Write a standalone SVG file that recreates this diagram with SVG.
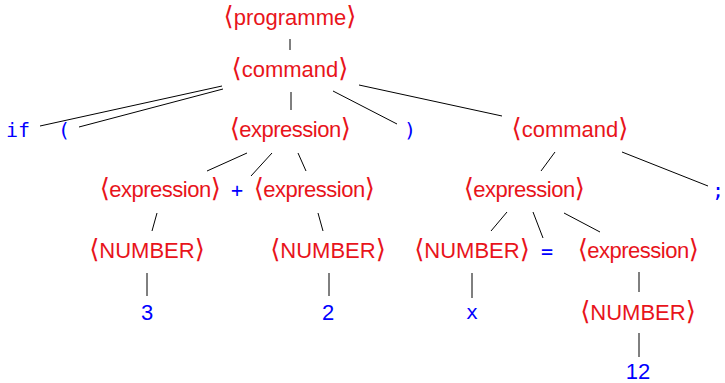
<svg xmlns="http://www.w3.org/2000/svg" width="725" height="383" viewBox="0 0 725 383">
<style>
.nt{font-family:"Liberation Sans","DejaVu Sans",sans-serif;font-size:22px;fill:#e8141b;text-anchor:middle}
.nt .b{font-family:"DejaVu Sans",sans-serif;font-size:26px}
.ex{letter-spacing:-0.5px}
.tt{font-family:"DejaVu Sans Mono","Liberation Mono",monospace;font-size:20px;fill:#0000ff;text-anchor:middle}
.num{font-family:"Liberation Sans","DejaVu Sans",sans-serif;font-size:22px;fill:#0000ff;text-anchor:middle}
#edges line{stroke:#000;stroke-width:1}
</style>
<rect width="725" height="383" fill="#fff"/>
<g id="edges">
<line x1="290" y1="39" x2="290" y2="50"/>
<line x1="222" y1="86" x2="40" y2="126"/>
<line x1="223" y1="89" x2="79" y2="127"/>
<line x1="291" y1="92" x2="291" y2="110"/>
<line x1="333" y1="91" x2="397" y2="124"/>
<line x1="359" y1="85" x2="502" y2="116"/>
<line x1="247" y1="153" x2="207" y2="171"/>
<line x1="272" y1="153" x2="251" y2="176"/>
<line x1="298" y1="153" x2="306" y2="171"/>
<line x1="555" y1="152" x2="541" y2="171"/>
<line x1="622" y1="152" x2="708" y2="186"/>
<line x1="157" y1="213" x2="152" y2="231"/>
<line x1="318" y1="213" x2="323" y2="231"/>
<line x1="147" y1="273" x2="147" y2="296"/>
<line x1="329" y1="273" x2="329" y2="296"/>
<line x1="507" y1="212" x2="491" y2="231"/>
<line x1="533" y1="212" x2="543" y2="238"/>
<line x1="564" y1="213" x2="600" y2="232"/>
<line x1="472" y1="273" x2="472" y2="298"/>
<line x1="639" y1="272" x2="639" y2="292"/>
<line x1="639" y1="333" x2="639" y2="357"/>
</g>
<g id="programme"><text class="nt" x="290" y="25"><tspan class="b">⟨</tspan>programme<tspan class="b">⟩</tspan></text></g>
<g id="command1"><text class="nt" x="290" y="77"><tspan class="b">⟨</tspan>command<tspan class="b">⟩</tspan></text></g>
<g id="if"><text class="tt" x="18" y="137">if</text></g>
<g id="lparen"><text class="tt" x="64" y="137">(</text></g>
<g id="expression1"><text class="nt ex" x="290" y="137"><tspan class="b">⟨</tspan>expression<tspan class="b">⟩</tspan></text></g>
<g id="rparen"><text class="tt" x="410" y="137">)</text></g>
<g id="command2"><text class="nt" x="570" y="137"><tspan class="b">⟨</tspan>command<tspan class="b">⟩</tspan></text></g>
<g id="expression2"><text class="nt ex" x="160" y="197"><tspan class="b">⟨</tspan>expression<tspan class="b">⟩</tspan></text></g>
<g id="plus"><text class="tt" x="237" y="197">+</text></g>
<g id="expression3"><text class="nt ex" x="314" y="197"><tspan class="b">⟨</tspan>expression<tspan class="b">⟩</tspan></text></g>
<g id="expression4"><text class="nt ex" x="524" y="197"><tspan class="b">⟨</tspan>expression<tspan class="b">⟩</tspan></text></g>
<g id="semicolon"><text class="tt" x="718" y="197">;</text></g>
<g id="number1"><text class="nt" x="147" y="258"><tspan class="b">⟨</tspan>NUMBER<tspan class="b">⟩</tspan></text></g>
<g id="number2"><text class="nt" x="328" y="258"><tspan class="b">⟨</tspan>NUMBER<tspan class="b">⟩</tspan></text></g>
<g id="number3"><text class="nt" x="472" y="258"><tspan class="b">⟨</tspan>NUMBER<tspan class="b">⟩</tspan></text></g>
<g id="equals"><text class="tt" x="547" y="258">=</text></g>
<g id="expression5"><text class="nt ex" x="638" y="258"><tspan class="b">⟨</tspan>expression<tspan class="b">⟩</tspan></text></g>
<g id="three"><text class="num" x="147" y="320">3</text></g>
<g id="two"><text class="num" x="328" y="320">2</text></g>
<g id="x"><text class="tt" x="472" y="319">x</text></g>
<g id="number4"><text class="nt" x="638" y="320"><tspan class="b">⟨</tspan>NUMBER<tspan class="b">⟩</tspan></text></g>
<g id="twelve"><text class="num" x="638" y="379">12</text></g>
</svg>
